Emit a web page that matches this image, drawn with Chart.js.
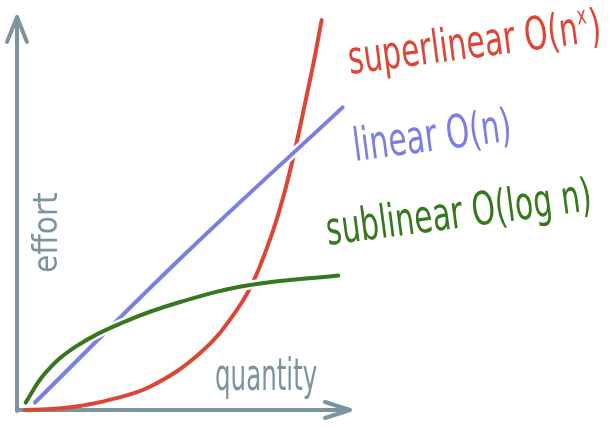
<!DOCTYPE html>
<html>
<head>
<meta charset="utf-8">
<script src="https://cdn.jsdelivr.net/npm/chart.js@4.4.1/dist/chart.umd.min.js"></script>
<style>
  html, body { margin: 0; padding: 0; background: #fff; }
  #wrap { width: 616px; height: 428px; }
</style>
</head>
<body>
<div id="wrap"><canvas id="bigO"></canvas></div>
<script>
// values, x = quantity, y = effort (0..100)
const linearX = [5.4, 50, 97.8];
const linearY = [1.9, 39.3, 77.0];

const sublinearX = [2.6, 8.4, 17.4, 32.4, 49.5, 70.0, 96.5];
const sublinearY = [1.9, 9.3, 16.0, 22.5, 27.6, 31.8, 34.2];

const superlinearX = [2.4, 11.4, 19.4, 27.4, 39.9, 55.0, 66.0, 72.5, 80.0, 88.0, 91.5];
const superlinearY = [0.0, 0.3, 1.1, 2.5, 5.9, 14.5, 25.4, 35.6, 54.3, 84.0, 99.2];

const axisTitles = ['quantity', 'effort'];
const seriesLabels = ['superlinear O(n', 'x', ')', 'linear O(n)', 'sublinear O(log n)'];

const RED = 'rgb(221, 70, 54)';
const BLUE = 'rgb(124, 127, 226)';
const GREEN = 'rgb(55, 120, 30)';
const GRAY = 'rgb(124, 148, 158)';
const HAND = "'DejaVu Sans Condensed', 'Liberation Sans Narrow', sans-serif";

function toPoints(xs, ys) {
  return xs.map((x, i) => ({ x: x, y: ys[i] }));
}

function lineSet(xs, ys, color, width) {
  return {
    data: toPoints(xs, ys),
    borderColor: color,
    borderWidth: width,
    pointRadius: 0,
    tension: 0.4,
    borderCapStyle: 'round',
    borderJoinStyle: 'round',
    fill: false
  };
}

// narrow, tall text to look a bit like the hand lettering
function handText(ctx, parts, x, y, deg, size, sx, color) {
  ctx.save();
  ctx.fillStyle = color;
  ctx.translate(x, y);
  ctx.rotate(deg * Math.PI / 180);
  ctx.scale(sx, 1);
  let w = 0;
  parts.forEach((p) => {
    ctx.font = (p.sup ? Math.round(size * 0.55) : size) + 'px ' + HAND;
    ctx.fillText(p.t, w + (p.sup ? 1 : 0), p.sup ? -size * 0.42 : 0);
    w += ctx.measureText(p.t).width + (p.sup ? 3 : 0);
  });
  ctx.restore();
}

// axes with arrow heads + labels
const sketchPlugin = {
  id: 'sketch',
  beforeDatasetsDraw(chart) {
    const { ctx, scales } = chart;
    const x0 = scales.x.getPixelForValue(0);
    const x1 = scales.x.getPixelForValue(100);
    const y0 = scales.y.getPixelForValue(0);
    const y1 = scales.y.getPixelForValue(100);
    ctx.save();
    ctx.strokeStyle = GRAY;
    ctx.lineWidth = 4;
    ctx.lineCap = 'round';
    ctx.lineJoin = 'round';
    ctx.beginPath();
    ctx.moveTo(x0, y0 + 1);
    ctx.lineTo(x0, y1);
    ctx.moveTo(x0 - 10, y1 + 25);
    ctx.lineTo(x0, y1);
    ctx.lineTo(x0 + 10, y1 + 25);
    ctx.moveTo(x0, y0);
    ctx.lineTo(x1, y0);
    ctx.moveTo(x1 - 25, y0 - 8);
    ctx.lineTo(x1, y0);
    ctx.lineTo(x1 - 25, y0 + 8);
    ctx.stroke();
    ctx.restore();

    handText(ctx, [{ t: axisTitles[0] }], x0 + 198, y0 - 20, 0, 44, 0.62, GRAY);
    handText(ctx, [{ t: axisTitles[1] }], x0 + 40, y0 - 137, -90, 33, 1.0, GRAY);

    handText(ctx, [{ t: seriesLabels[0] }, { t: seriesLabels[1], sup: true }, { t: seriesLabels[2] }],
      350, 74, -7.5, 46, 0.72, RED);
    handText(ctx, [{ t: seriesLabels[3] }], 355, 161, -7.5, 46, 0.72, BLUE);
    handText(ctx, [{ t: seriesLabels[4] }], 328, 245, -7.5, 46, 0.72, GREEN);
  }
};

const ctx = document.getElementById('bigO').getContext('2d');

// first dataset is drawn on top, white copies give the little gaps at crossings
new Chart(ctx, {
  type: 'line',
  data: {
    datasets: [
      lineSet(sublinearX, sublinearY, GREEN, 4),
      lineSet(sublinearX, sublinearY, '#ffffff', 9),
      lineSet(linearX, linearY, BLUE, 4),
      lineSet(linearX, linearY, '#ffffff', 9),
      lineSet(superlinearX, superlinearY, RED, 4)
    ]
  },
  options: {
    responsive: true,
    maintainAspectRatio: false,
    animation: false,
    clip: false,
    layout: { padding: { left: 17, top: 17, right: 266, bottom: 18 } },
    scales: {
      x: { type: 'linear', min: 0, max: 100, display: false },
      y: { type: 'linear', min: 0, max: 100, display: false }
    },
    plugins: {
      legend: { display: false },
      tooltip: { enabled: false }
    }
  },
  plugins: [sketchPlugin]
});
</script>
</body>
</html>
